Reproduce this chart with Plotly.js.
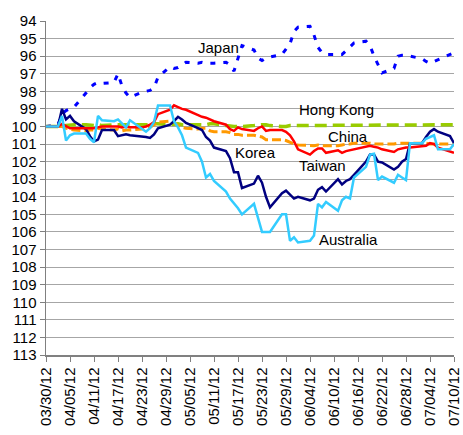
<!DOCTYPE html>
<html>
<head>
<meta charset="utf-8">
<script src="https://cdn.plot.ly/plotly-3.0.1.min.js"></script>
<style>html,body{margin:0;padding:0;background:#fff;}#chart{width:463px;height:435px;}</style>
</head>
<body>
<div id="chart"></div>
<script>
const dates = [
  '2012-03-30',
  '2012-04-02','2012-04-03','2012-04-04','2012-04-05','2012-04-06',
  '2012-04-09','2012-04-10','2012-04-11','2012-04-12','2012-04-13',
  '2012-04-16','2012-04-17','2012-04-18','2012-04-19','2012-04-20',
  '2012-04-23','2012-04-24','2012-04-25','2012-04-26','2012-04-27',
  '2012-04-30','2012-05-01','2012-05-02','2012-05-03','2012-05-04',
  '2012-05-07','2012-05-08','2012-05-09','2012-05-10','2012-05-11',
  '2012-05-14','2012-05-15','2012-05-16','2012-05-17','2012-05-18',
  '2012-05-21','2012-05-22','2012-05-23','2012-05-24','2012-05-25',
  '2012-05-28','2012-05-29','2012-05-30','2012-05-31','2012-06-01',
  '2012-06-04','2012-06-05','2012-06-06','2012-06-07','2012-06-08',
  '2012-06-11','2012-06-12','2012-06-13','2012-06-14','2012-06-15',
  '2012-06-18','2012-06-19','2012-06-20','2012-06-21','2012-06-22',
  '2012-06-25','2012-06-26','2012-06-27','2012-06-28','2012-06-29',
  '2012-07-02','2012-07-03','2012-07-04','2012-07-05','2012-07-06',
  '2012-07-09','2012-07-10'
];

const japan = [100, 99.9, 99.3, 99.1, 99.0, 98.9, 98.1, 97.8, 97.6, 97.5, 97.55, 97.5, 97.0, 97.7, 98.1, 98.35, 98.05, 98.0, 97.95, 97.8, 97.2, 96.6, 96.7, 96.65, 96.5, 96.35, 96.4, 96.35, 96.4, 96.4, 96.4, 96.35, 96.5, 96.85, 96.1, 95.4, 95.65, 96.1, 96.25, 96.1, 96.05, 95.9, 95.6, 95.3, 94.6, 94.35, 94.3, 94.8, 95.5, 95.8, 95.9, 95.9, 95.9, 95.7, 95.45, 95.25, 95.15, 95.4, 96.0, 96.5, 96.95, 96.7, 96.0, 95.95, 95.95, 96.0, 96.15, 96.3, 96.4, 96.3, 96.2, 95.9, 95.8];

const hongKong = [100, 100, 100, 99.95, 99.9, 99.9, 99.9, 99.95, 99.95, 99.9, 99.95, 99.9, 99.9, 99.95, 99.95, 99.9, 99.9, 99.95, 99.9, 99.85, 99.85, 99.9, 99.85, 99.85, 99.9, 99.9, 99.95, 99.95, 99.9, 99.85, 99.85, 99.95, 100.0, 100.0, 100.0, 100.0, 99.95, 99.9, 99.9, 99.9, 99.95, 100.0, 100.0, 99.95, 99.95, 99.95, 99.9, 99.9, 99.9, 99.9, 99.9, 99.9, 99.9, 99.9, 99.9, 99.9, 99.95, 99.95, 99.95, 99.95, 99.9, 99.9, 99.9, 99.95, 99.95, 99.9, 99.9, 99.9, 99.9, 99.9, 99.9, 99.9, 99.9];

const china = [100, 100, 100.0, 100.1, 100.15, 100.2, 100.25, 100.2, 100.2, 100.1, 100.15, 100.2, 100.15, 100.25, 100.2, 100.2, 100.15, 100.1, 100.05, 99.9, 99.75, 99.7, 99.75, 99.95, 100.05, 100.1, 100.15, 100.1, 100.1, 100.25, 100.3, 100.3, 100.35, 100.45, 100.45, 100.5, 100.5, 100.55, 100.6, 100.75, 100.75, 100.75, 100.8, 100.9, 101.0, 101.05, 101.1, 101.1, 101.05, 101.1, 101.1, 101.1, 101.05, 101.0, 101.0, 100.95, 100.95, 100.95, 101.0, 101.0, 101.0, 101.0, 100.95, 100.95, 100.95, 100.95, 100.95, 100.95, 101.0, 101.0, 101.0, 101.0, 101.05];

const korea = [100, 100, 99.0, 99.6, 99.4, 99.7, 100.15, 100.55, 100.85, 100.75, 100.2, 100.2, 100.55, 100.5, 100.45, 100.5, 100.55, 100.6, 100.65, 100.45, 100.1, 99.9, 99.7, 99.45, 99.6, 99.8, 100.1, 100.2, 100.6, 100.8, 101.2, 101.4, 101.8, 102.6, 102.6, 103.5, 103.25, 102.8, 103.2, 104.0, 104.6, 103.8, 103.65, 103.9, 104.1, 104.0, 104.2, 104.1, 103.6, 103.45, 103.7, 103.0, 103.3, 103.1, 103.0, 102.75, 102.0, 101.6, 101.6, 102.0, 102.05, 102.45, 102.3, 102.0, 101.85, 100.95, 100.95, 100.6, 100.3, 100.15, 100.3, 100.55, 100.95];

const taiwan = [100, 100, 99.85, 100.0, 100.1, 100.1, 100.1, 100.1, 100.1, 100.05, 100.0, 100.0, 100.0, 100.05, 100.0, 100.05, 100.05, 100.0, 99.9, 99.75, 99.3, 99.05, 98.8, 98.9, 99.0, 99.05, 99.35, 99.45, 99.5, 99.6, 99.7, 99.9, 100.15, 100.25, 100.05, 100.15, 100.25, 100.1, 100.0, 100.25, 100.2, 100.2, 100.3, 100.5, 100.85, 101.3, 101.6, 101.4, 101.25, 101.25, 101.5, 101.35, 101.5, 101.4, 101.35, 101.3, 101.15, 101.1, 101.15, 101.2, 101.3, 101.45, 101.3, 101.25, 101.2, 101.2, 101.15, 101.1, 100.95, 101.0, 101.2, 101.4, 101.5];

const australia = [100, 100.0, 99.4, 100.8, 100.5, 100.4, 100.4, 100.7, 100.9, 99.4, 99.65, 99.7, 99.6, 99.85, 100.05, 99.65, 100.1, 100.3, 100.1, 99.75, 98.8, 98.8, 99.7, 100.05, 100.5, 101.2, 101.5, 102.0, 102.9, 102.7, 103.1, 103.7, 104.1, 104.35, 104.65, 105.0, 104.4, 105.2, 106.0, 106.0, 106.0, 105.0, 105.0, 106.5, 106.3, 106.6, 106.5, 106.2, 104.4, 104.6, 104.3, 104.8, 104.2, 104.0, 104.1, 102.9, 102.3, 101.6, 101.55, 103.05, 102.85, 103.2, 102.75, 102.9, 103.05, 100.95, 100.95, 100.7, 100.6, 100.5, 101.3, 101.3, 101.0];

const seriesNames = ['Japan', 'Hong Kong', 'China', 'Korea', 'Taiwan', 'Australia'];

const FONT = 'Liberation Sans, Arial, sans-serif';

const traces = [
  {y: japan, line: {color: '#0000ff', width: 3, dash: '5px,8px'}},
  {y: hongKong, line: {color: '#99cc00', width: 3.5, dash: '12px,6px'}},
  {y: china, line: {color: '#ff9900', width: 3, dash: '9px,4px'}},
  {y: korea, line: {color: '#000080', width: 2.5}},
  {y: taiwan, line: {color: '#ff0000', width: 2.5}},
  {y: australia, line: {color: '#33ccff', width: 2.5}}
].map((t, i) => Object.assign({x: dates, type: 'scatter', mode: 'lines', name: seriesNames[i], hoverinfo: 'skip'}, t));

function ann(text, x, y) {
  return {text: text, xref: 'paper', yref: 'paper', x: x, y: y, xanchor: 'center', yanchor: 'middle',
          showarrow: false, font: {family: FONT, size: 15, color: '#000'}};
}

const layout = {
  width: 463, height: 435,
  margin: {l: 46, r: 9, t: 21, b: 80},
  paper_bgcolor: '#fff', plot_bgcolor: '#fff',
  showlegend: false,
  font: {family: FONT, size: 15, color: '#000'},
  xaxis: {
    type: 'date',
    range: ['2012-03-30', '2012-07-10'],
    tick0: '2012-03-30',
    dtick: 6 * 86400000,
    tickformat: '%m/%d/%y',
    tickangle: -90,
    ticks: 'outside', ticklen: 5, tickcolor: '#808080', tickwidth: 1,
    showgrid: false, zeroline: false,
    showline: true, linecolor: '#808080', linewidth: 1.5,
    tickfont: {family: FONT, size: 15, color: '#000'}
  },
  yaxis: {
    range: [113, 94],
    tick0: 94, dtick: 1,
    ticks: 'outside', ticklen: 5, tickcolor: '#808080', tickwidth: 1,
    showgrid: true, gridcolor: '#a6a6a6', gridwidth: 1,
    zeroline: false,
    showline: true, linecolor: '#808080', linewidth: 1.5,
    tickfont: {family: FONT, size: 15, color: '#000'}
  },
  annotations: [
    ann('Japan', 0.4216, 0.9213),
    ann('Hong Kong', 0.7108, 0.7356),
    ann('China', 0.7402, 0.6548),
    ann('Korea', 0.5123, 0.6069),
    ann('Taiwan', 0.6789, 0.568),
    ann('Australia', 0.7426, 0.3464)
  ]
};

Plotly.newPlot('chart', traces, layout, {staticPlot: true, displayModeBar: false});
</script>
</body>
</html>
